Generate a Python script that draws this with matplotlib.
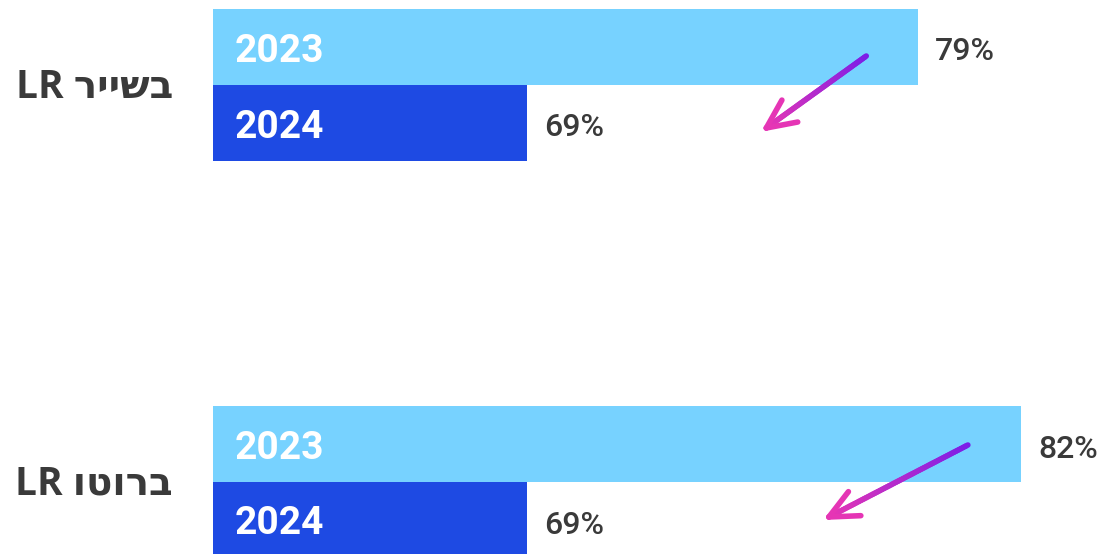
import numpy as np
import matplotlib
matplotlib.use("Agg")
import matplotlib.pyplot as plt
from matplotlib.collections import LineCollection
from matplotlib.transforms import IdentityTransform
from matplotlib.colors import to_rgb

# ---- data ----
categories = ["בשייר LR", "ברוטו LR"]
years = ["2023", "2024"]
values_2023 = [79.1, 81.8]
values_2024 = [68.8, 68.8]

# ---- style ----
color_2023 = "#77D2FF"
color_2024 = "#1E4AE3"
text_color = "#3A3A3A"
arrow_start_color = "#7A1EE8"
arrow_end_color = "#E535B5"


def visual_order(s):
    """matplotlib has no bidi support: lay out RTL text in visual order."""
    words = s.split(" ")[::-1]
    out = []
    for w in words:
        if any("\u0590" <= c <= "\u05FF" for c in w):
            out.append(w[::-1])
        else:
            out.append(w)
    return " ".join(out)


W, H = 1106, 554
fig = plt.figure(figsize=(W / 100, H / 100), dpi=100)
ax = fig.add_axes([213 / W, 0, (W - 213) / W, 1])
ax.axis("off")

px_per_unit = 38.0
xmin = 60.54
ax.set_xlim(xmin, xmin + (W - 213) / px_per_unit)

group_gap_px = 397.0
bar_h = 76.0 / group_gap_px
ax.set_ylim(1 + (H - 482) / group_gap_px, -85 / group_gap_px)

centers = np.arange(len(categories))
y23 = centers - bar_h / 2
y24 = centers + bar_h / 2

ax.barh(y23, values_2023, height=bar_h, color=color_2023, linewidth=0)
ax.barh(y24, values_2024, height=bar_h, color=color_2024, linewidth=0)

year_font = dict(family=["Roboto", "DejaVu Sans"], fontsize=28, fontweight="bold", color="white")
pct_font = dict(family=["Roboto", "DejaVu Sans"], fontsize=23, fontweight="medium", color=text_color)
cat_font = dict(family=["Open Sans", "DejaVu Sans"], fontsize=28, fontweight="bold", color=text_color)

for i in range(len(categories)):
    for yy, yr, val in ((y23[i], years[0], values_2023[i]), (y24[i], years[1], values_2024[i])):
        ax.annotate(yr, xy=(0, yy), xycoords=("axes fraction", "data"),
                    xytext=(22, -4), textcoords="offset pixels",
                    ha="left", va="center", **year_font)
        ax.annotate(f"{val:.0f}%", xy=(val, yy), xycoords="data",
                    xytext=(17, -5), textcoords="offset pixels",
                    ha="left", va="center", **pct_font)
    ax.annotate(visual_order(categories[i]), xy=(0, centers[i]),
                xycoords=("axes fraction", "data"),
                xytext=(-40, -2), textcoords="offset pixels",
                ha="right", va="center", **cat_font)

# ---- gradient arrows (decorations, placed relative to the 2023 bar ends) ----
arrow_start_offsets = [(-52, 29), (-53, 37)]
arrow_tip_offsets = [(-152, -43), (-192, -35)]
head_len = 32
head_angle = np.deg2rad(25)
lw = 4.0

c0 = np.array(to_rgb(arrow_start_color))
c1 = np.array(to_rgb(arrow_end_color))

for i in range(len(categories)):
    base = ax.transData.transform((values_2023[i], centers[i]))
    start = base + np.array(arrow_start_offsets[i], dtype=float)
    tip = base + np.array(arrow_tip_offsets[i], dtype=float)
    n = 60
    t = np.linspace(0, 1, n + 1)
    pts = start[None, :] + (tip - start)[None, :] * t[:, None]
    segs = np.stack([pts[:-1], pts[1:]], axis=1)
    cols = c0[None, :] + (c1 - c0)[None, :] * ((t[:-1] + t[1:]) / 2)[:, None]
    lc = LineCollection(segs, colors=cols, linewidths=lw, capstyle="round",
                        transform=IdentityTransform())
    fig.add_artist(lc)
    d = start - tip
    ang = np.arctan2(d[1], d[0])
    barbs = []
    for s in (-1, 1):
        a = ang + s * head_angle
        barbs.append([tip, tip + head_len * np.array([np.cos(a), np.sin(a)])])
    lc2 = LineCollection(barbs, colors=[c1, c1], linewidths=lw, capstyle="round",
                         transform=IdentityTransform())
    fig.add_artist(lc2)

fig.savefig("out.png", dpi=100)
